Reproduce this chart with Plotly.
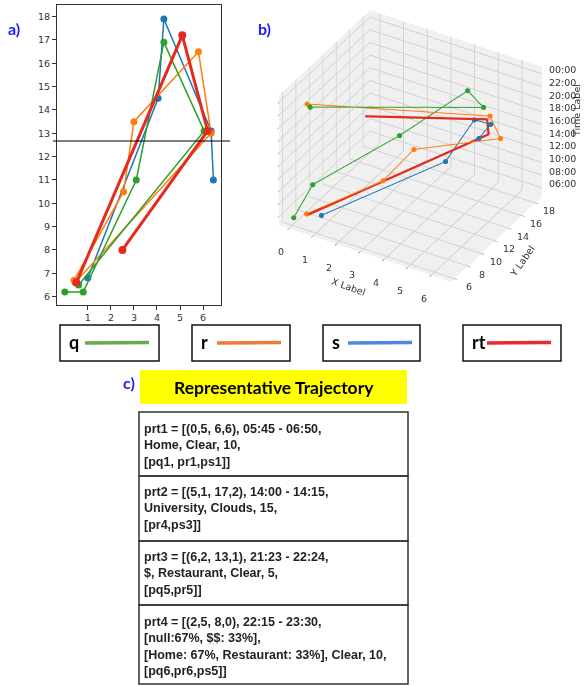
import plotly.graph_objects as go

# ---------------- data ----------------
# q (green)
q_x = [0.0, 0.8, 3.1, 4.3, 6.05, 0.6]
q_y = [6.2, 6.2, 11.0, 16.9, 13.1, 6.5]
q_t = [5.6, 11.8, 17.6, 20.3, 23.6, 23.5]
# r (orange)
r_x = [0.4, 2.55, 3.0, 5.8, 6.35, 0.45]
r_y = [6.7, 10.5, 13.5, 16.5, 13.0, 6.6]
r_t = [6.2, 10.3, 12.8, 15.0, 22.7, 23.7]
# s (blue)
s_x = [1.0, 4.05, 4.3, 6.35, 6.45]
s_y = [6.8, 14.5, 17.9, 13.1, 11.0]
s_t = [6.6, 11.2, 14.7, 21.3, 21.3]
# rt (red) representative trajectory
rt_x = [0.5, 5.1, 6.2, 2.5]
rt_y = [6.6, 17.2, 13.1, 8.0]
rt_t = [6.3, 14.1, 21.9, 22.9]

h_line_y = 12.67

x_ticks_2d = [1, 2, 3, 4, 5, 6]
y_ticks_2d = list(range(6, 19))
x_ticks_3d = [0, 1, 2, 3, 4, 5, 6]
y_ticks_3d = [6, 8, 10, 12, 14, 16, 18]
z_ticks_3d = [6, 8, 10, 12, 14, 16, 18, 20, 22, 24]
z_ticklabels = ["06:00", "08:00", "10:00", "12:00", "14:00", "16:00",
                "18:00", "20:00", "22:00", "00:00"]
x_range_3d = [-0.42, 6.84]
y_range_3d = [5.5, 19.0]
z_range_3d = [4.6, 25.1]

legend_names = ["q", "r", "s", "rt"]
legend_colors = ["#6aaa4a", "#ec7c34", "#4f86e6", "#e82c2a"]

table_title = "Representative Trajectory"
table_rows = [
    "prt1 = [(0,5, 6,6), 05:45 - 06:50,<br>Home, Clear, 10,<br>[pq1, pr1,ps1]]",
    "prt2 = [(5,1, 17,2), 14:00 - 14:15,<br>University, Clouds, 15,<br>[pr4,ps3]]",
    "prt3 = [(6,2, 13,1), 21:23 - 22:24,<br>$, Restaurant, Clear, 5,<br>[pq5,pr5]]",
    "prt4 = [(2,5, 8,0), 22:15 - 23:30,<br>[null:67%, $$: 33%],<br>[Home: 67%, Restaurant: 33%], Clear, 10,<br>[pq6,pr6,ps5]]",
]

C_BLUE, C_ORANGE, C_GREEN, C_RED = "#1f77b4", "#ff7f0e", "#2ca02c", "#e32b20"

W, H = 584, 686
def px(x):
    return x / W
def py(y):
    return 1 - y / H

fig = go.Figure()

# ---------------- 2D plot ----------------
for xs, ys, c, lw, ms in [(s_x, s_y, C_BLUE, 1.5, 7), (r_x, r_y, C_ORANGE, 1.5, 7),
                          (q_x, q_y, C_GREEN, 1.5, 7), (rt_x, rt_y, C_RED, 3, 8)]:
    fig.add_trace(go.Scatter(x=xs, y=ys, mode="lines+markers",
                             line=dict(color=c, width=lw),
                             marker=dict(color=c, size=ms),
                             showlegend=False, xaxis="x", yaxis="y"))

# ---------------- 3D plot ----------------
for xs, ys, ts, c in [(s_x, s_y, s_t, C_BLUE), (r_x, r_y, r_t, C_ORANGE), (q_x, q_y, q_t, C_GREEN)]:
    fig.add_trace(go.Scatter3d(x=xs, y=ys, z=ts, mode="lines+markers",
                               line=dict(color=c, width=2),
                               marker=dict(color=c, size=3),
                               showlegend=False, scene="scene"))
fig.add_trace(go.Scatter3d(x=rt_x, y=rt_y, z=rt_t, mode="lines",
                           line=dict(color=C_RED, width=4.5),
                           showlegend=False, scene="scene"))

tickfont = dict(family="DejaVu Sans", size=9.5, color="#333333")
axis3d = dict(showbackground=True, backgroundcolor="rgb(240,240,240)",
              gridcolor="rgb(208,208,208)", zeroline=False, showspikes=False,
              showticklabels=False, title=dict(text=""),
              showline=False, ticks="outside", ticklen=3, tickcolor="#555555")

# 3D tick labels / titles as scene annotations (matplotlib-like placement)
lab_font = dict(family="DejaVu Sans", size=9.5, color="#333333")
scene_ann = []
for v in x_ticks_3d:
    scene_ann.append(dict(x=v, y=y_range_3d[0], z=z_range_3d[0], text=str(v), showarrow=False,
                          xanchor="center", yanchor="middle", xshift=-8, yshift=-23, font=lab_font))
for v in y_ticks_3d:
    scene_ann.append(dict(x=x_range_3d[1], y=v, z=z_range_3d[0], text=str(v), showarrow=False,
                          xanchor="center", yanchor="middle", xshift=14, yshift=-8, font=lab_font))
for v, t in zip(z_ticks_3d, z_ticklabels):
    scene_ann.append(dict(x=x_range_3d[1], y=y_range_3d[1], z=v, text=t, showarrow=False,
                          xanchor="left", yanchor="middle", xshift=5, yshift=4, font=lab_font))
scene_ann.append(dict(x=3.2, y=y_range_3d[0], z=z_range_3d[0], text="X Label", showarrow=False,
                      xanchor="center", yanchor="middle", xshift=-17, yshift=-33, textangle=20,
                      font=lab_font))
scene_ann.append(dict(x=x_range_3d[1], y=12.0, z=z_range_3d[0], text="Y Label", showarrow=False,
                      xanchor="center", yanchor="middle", xshift=27, yshift=-21, textangle=-55,
                      font=lab_font))
scene_ann.append(dict(x=x_range_3d[1], y=y_range_3d[1], z=15.0, text="Time Label", showarrow=False,
                      xanchor="center", yanchor="middle", xshift=35, yshift=20, textangle=-90,
                      font=lab_font))

shapes = []
annotations = []

# horizontal reference line on 2D plot
shapes.append(dict(type="line", xref="paper", yref="y", x0=px(53), x1=px(230),
                   y0=h_line_y, y1=h_line_y, line=dict(color="black", width=1)))

# panel labels
for t, x, y in [("a)", 14, 29), ("b)", 264, 28), ("c)", 129, 382)]:
    annotations.append(dict(text=t, x=px(x), y=py(y), xref="paper", yref="paper",
                            showarrow=False, xanchor="center", yanchor="middle",
                            font=dict(family="Lato", size=16, color="#1a1aff", weight="bold")))

# legend boxes
boxes = [(60, 159), (192, 290), (323, 420), (463, 561)]
for name, col, (x0, x1) in zip(legend_names, legend_colors, boxes):
    shapes.append(dict(type="rect", xref="paper", yref="paper", x0=px(x0), x1=px(x1),
                       y0=py(361), y1=py(325), line=dict(color="#111111", width=1.5)))
    annotations.append(dict(text=name, x=px(x0 + 7), y=py(342), xref="paper", yref="paper",
                            showarrow=False, xanchor="left", yanchor="middle",
                            font=dict(family="Lato", size=18, color="black", weight="bold")))
    lx0 = x0 + (25 if len(name) == 1 else 24)
    shapes.append(dict(type="line", xref="paper", yref="paper", x0=px(lx0), x1=px(lx0 + 64),
                       y0=py(343), y1=py(342.5), line=dict(color=col, width=3.5)))

# table title
shapes.append(dict(type="rect", xref="paper", yref="paper", x0=px(140), x1=px(407),
                   y0=py(404), y1=py(370), fillcolor="#ffff00", line=dict(width=0),
                   layer="below"))
annotations.append(dict(text=table_title, x=px(274), y=py(387), xref="paper", yref="paper",
                        showarrow=False, xanchor="center", yanchor="middle",
                        font=dict(family="Lato", size=17.5, color="black", weight="bold")))

# table rows
row_edges = [412, 476, 541, 605, 684]
row_centers = [445, 509, 573, 646.5]
for i, txt in enumerate(table_rows):
    shapes.append(dict(type="rect", xref="paper", yref="paper", x0=px(139), x1=px(408),
                       y0=py(row_edges[i + 1]), y1=py(row_edges[i]),
                       line=dict(color="#333333", width=1.5)))
    annotations.append(dict(text=txt, x=px(142), y=py(row_centers[i]), xref="paper",
                            yref="paper", showarrow=False, xanchor="left", yanchor="middle",
                            align="left",
                            font=dict(family="Liberation Sans", size=12.5, color="#222222",
                                      weight="bold")))

fig.update_layout(
    width=W, height=H, margin=dict(l=0, r=0, t=0, b=0),
    paper_bgcolor="white", plot_bgcolor="white",
    xaxis=dict(domain=[px(57), px(221)], range=[-0.34, 6.78], tickvals=x_ticks_2d,
               showline=True, mirror=True, linecolor="#333333", linewidth=1,
               ticks="outside", ticklen=4, tickcolor="#333333", showgrid=False,
               zeroline=False, tickfont=tickfont, anchor="y"),
    yaxis=dict(domain=[py(305), py(5)], range=[5.64, 18.5], tickvals=y_ticks_2d,
               showline=True, mirror=True, linecolor="#333333", linewidth=1,
               ticks="outside", ticklen=4, tickcolor="#333333", showgrid=False,
               zeroline=False, tickfont=tickfont, anchor="x"),
    scene=dict(
        domain=dict(x=[0.41, 0.997], y=[py(292), 1.0]),
        xaxis=dict(axis3d, range=x_range_3d, tickvals=x_ticks_3d),
        yaxis=dict(axis3d, range=y_range_3d, tickvals=y_ticks_3d),
        zaxis=dict(axis3d, range=z_range_3d, tickvals=z_ticks_3d),
        aspectmode="manual", aspectratio=dict(x=1.37, y=1.22, z=1.07),
        camera=dict(eye=dict(x=0.619, y=-1.044, z=0.812), center=dict(x=0, y=0, z=0),
                    projection=dict(type="orthographic")),
        annotations=scene_ann,
    ),
    shapes=shapes, annotations=annotations,
)

fig.write_html("out.html", config={"displayModeBar": False},
               post_script="document.body.style.margin='0px';")
